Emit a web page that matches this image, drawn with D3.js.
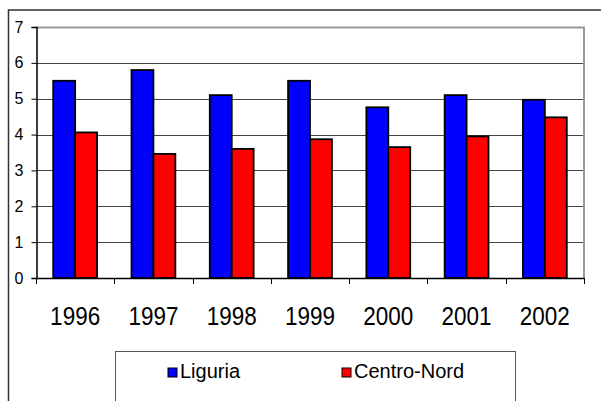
<!DOCTYPE html>
<html>
<head>
<meta charset="utf-8">
<script src="https://cdn.jsdelivr.net/npm/d3@7"></script>
<style>
  body { margin: 0; background: #fff; }
  svg { display: block; font-family: "Liberation Sans", Arial, sans-serif; }
</style>
</head>
<body>
<div id="chart"></div>
<script>
var years = ["1996", "1997", "1998", "1999", "2000", "2001", "2002"];
var seriesNames = ["Liguria", "Centro-Nord"];
var liguria = [5.5, 5.8, 5.1, 5.5, 4.76, 5.1, 4.97];
var centroNord = [4.06, 3.46, 3.6, 3.87, 3.65, 3.95, 4.48];
var yTicks = [0, 1, 2, 3, 4, 5, 6, 7];
var colors = ["#0000ff", "#ff0000"];

var width = 601, height = 401;
var plot = {left: 36, right: 584, top: 27, bottom: 278};

var svg = d3.select("#chart").append("svg")
    .attr("width", width)
    .attr("height", height);

// outer frame
svg.append("rect")
    .attr("x", 8.5).attr("y", 10)
    .attr("width", 620).attr("height", 420)
    .attr("fill", "none")
    .attr("stroke", "#333")
    .attr("stroke-width", 1.5);

var x = d3.scaleBand()
    .domain(years)
    .range([plot.left, plot.right])
    .paddingInner(0.44)
    .paddingOuter(0.22);

var xSub = d3.scaleBand()
    .domain(seriesNames)
    .range([0, x.bandwidth()]);

var y = d3.scaleLinear()
    .domain([0, 7])
    .range([plot.bottom, plot.top]);

// gridlines
svg.append("g").selectAll("line")
    .data(yTicks.filter(function(d) { return d > 0 && d < 7; }))
    .enter().append("line")
    .attr("x1", plot.left).attr("x2", plot.right)
    .attr("y1", function(d) { return Math.round(y(d)) + 0.5; })
    .attr("y2", function(d) { return Math.round(y(d)) + 0.5; })
    .attr("stroke", "#444")
    .attr("stroke-width", 1);

// plot border top/right
svg.append("path")
    .attr("d", "M" + plot.left + "," + (plot.top + 0.5) + "H" + plot.right + "V" + plot.bottom)
    .attr("fill", "none")
    .attr("stroke", "#999")
    .attr("stroke-width", 2);

var data = years.map(function(yr, i) {
    return {year: yr, values: [
        {name: seriesNames[0], value: liguria[i]},
        {name: seriesNames[1], value: centroNord[i]}
    ]};
});

var groups = svg.append("g").selectAll("g")
    .data(data)
    .enter().append("g")
    .attr("transform", function(d) { return "translate(" + x(d.year) + ",0)"; });

groups.selectAll("rect")
    .data(function(d) { return d.values; })
    .enter().append("rect")
    .attr("x", function(d) { return xSub(d.name); })
    .attr("y", function(d) { return y(d.value); })
    .attr("width", xSub.bandwidth())
    .attr("height", function(d) { return y(0) - y(d.value); })
    .attr("fill", function(d, i) { return colors[i]; })
    .attr("stroke", "#000")
    .attr("stroke-width", 1.8);

// y axis
var yAxis = d3.axisLeft(y)
    .tickValues(yTicks)
    .tickSize(5)
    .tickPadding(8)
    .tickFormat(d3.format("d"));

var gY = svg.append("g")
    .attr("transform", "translate(" + (plot.left + 0.5) + ",0)")
    .call(yAxis);
gY.select(".domain").attr("stroke", "#000").attr("stroke-width", 1.5);
gY.selectAll(".tick line").attr("stroke", "#000");
gY.selectAll(".tick text")
    .attr("font-size", 16)
    .attr("font-family", "Liberation Sans, Arial, sans-serif")
    .attr("fill", "#000");

// x axis: ticks at category boundaries
var step = x.step();
var boundaries = d3.range(years.length + 1).map(function(i) {
    return x(years[0]) - x.paddingOuter() * step + i * step;
});

svg.append("line")
    .attr("x1", plot.left).attr("x2", plot.right)
    .attr("y1", plot.bottom + 0.5).attr("y2", plot.bottom + 0.5)
    .attr("stroke", "#000")
    .attr("stroke-width", 1.5);

svg.append("g").selectAll("line")
    .data(boundaries)
    .enter().append("line")
    .attr("x1", function(d) { return Math.round(d) + 0.5; })
    .attr("x2", function(d) { return Math.round(d) + 0.5; })
    .attr("y1", plot.bottom)
    .attr("y2", plot.bottom + 6)
    .attr("stroke", "#000");

// year labels, slightly stretched vertically like the original
svg.append("g").selectAll("text")
    .data(years)
    .enter().append("text")
    .attr("transform", function(d) {
        return "translate(" + (x(d) + x.bandwidth() / 2) + ",325) scale(1,1.12)";
    })
    .attr("text-anchor", "middle")
    .attr("font-size", 22.5)
    .attr("fill", "#000")
    .text(function(d) { return d; });

// legend
var legend = svg.append("g");
legend.append("rect")
    .attr("x", 115.5).attr("y", 351.5)
    .attr("width", 400).attr("height", 80)
    .attr("fill", "#fff")
    .attr("stroke", "#555")
    .attr("stroke-width", 1);

var legendX = [168, 342];
var items = legend.selectAll("g.item")
    .data(seriesNames)
    .enter().append("g")
    .attr("class", "item")
    .attr("transform", function(d, i) { return "translate(" + legendX[i] + ",368)"; });

items.append("rect")
    .attr("width", 9).attr("height", 9)
    .attr("fill", function(d, i) { return colors[i]; })
    .attr("stroke", "#000")
    .attr("stroke-width", 1);

items.append("text")
    .attr("x", 12)
    .attr("y", 9.5)
    .attr("font-size", 20)
    .attr("fill", "#000")
    .text(function(d) { return d; });
</script>
</body>
</html>
